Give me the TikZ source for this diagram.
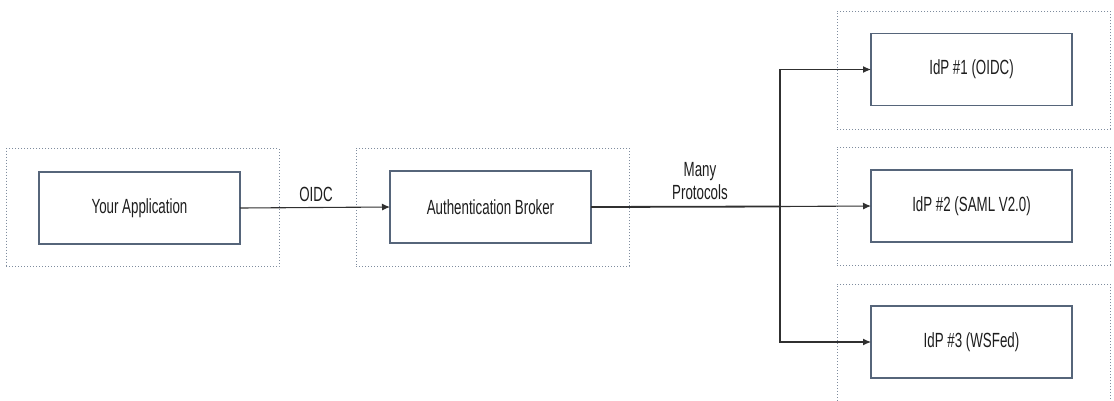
\documentclass[tikz,border=0pt]{standalone}
\usepackage{fontspec}
\setmainfont{Liberation Sans}[FakeStretch=0.65]
\usetikzlibrary{arrows.meta}
\definecolor{boxline}{HTML}{56657A}
\definecolor{dotline}{HTML}{7F8C9E}
\definecolor{arrline}{HTML}{303030}
\definecolor{txt}{HTML}{1E1E1E}
\begin{document}
\begin{tikzpicture}[x=1pt,y=-1pt,
  inbox/.style={draw=boxline, line width=1.1pt, minimum width=201pt, minimum height=72pt,
    outer sep=0pt, inner sep=0pt, text=txt, font=\fontsize{20.5}{24}\selectfont},
  grpbox/.style={draw=dotline, line width=1pt, dash pattern=on 0.9pt off 2.1pt,
    minimum width=273pt, minimum height=118pt, outer sep=0pt, inner sep=0pt},
  conn/.style={draw=arrline, line width=1.1pt, -{Latex[length=8pt,width=7pt]}},
  lbl/.style={text=txt, font=\fontsize{20.5}{23}\selectfont, align=center, inner sep=0pt}]
\useasboundingbox (0,0) rectangle (1114,400);
\fill[white] (0,0) rectangle (1114,400);
% group boxes
\node[grpbox] (appg) at (142.5,207.5) {};
\node[grpbox] (brokerg) at (492.5,207) {};
\node[grpbox] (idp1g) at (973.5,70) {};
\node[grpbox] (idp2g) at (973.5,206) {};
\node[grpbox] (idp3g) at (973.5,343) {};
% inner boxes
\node[inbox] (app) at (139.5,208) {Your Application};
\node[inbox] (broker) at (490.5,207) {Authentication Broker};
\node[inbox] (idp1) at (971.5,69.5) {IdP \#1 (OIDC)};
\node[inbox] (idp2) at (971.5,206) {IdP \#2 (SAML V2.0)};
\node[inbox] (idp3) at (971.5,342) {IdP \#3 (WSFed)};
% junction
\coordinate (jn) at (780,206.5);
\coordinate (jtop) at (780,69.5);
\coordinate (jbot) at (780,342);
% connectors
\draw[conn] (app.east) -- (broker.west);
\draw[draw=arrline, line width=1.8pt] (broker.east) -- (jn);
\draw[conn] (jn) -- (idp2.west);
\draw[conn] (jn) -- (jtop) -- (idp1.west);
\draw[conn] (jn) -- (jbot) -- (idp3.west);
% labels
\node[lbl] (oidc) at (316,194) {OIDC};
\node[lbl] (many) at (700,181) {Many\\Protocols};
\end{tikzpicture}
\end{document}
